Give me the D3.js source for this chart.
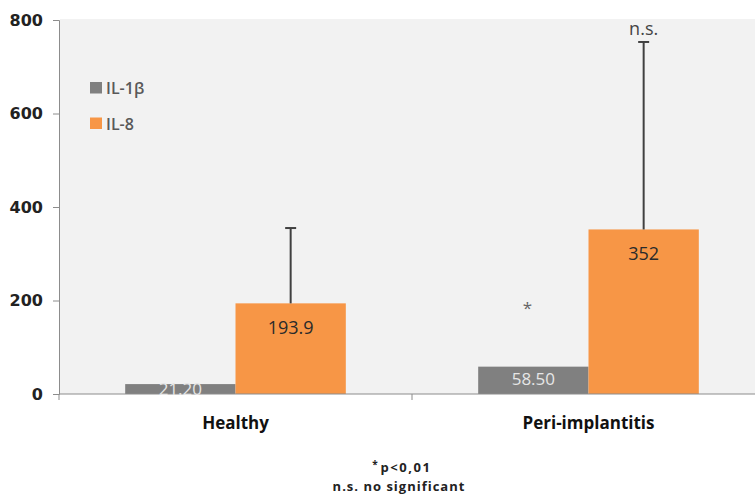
<!DOCTYPE html>
<html><head><meta charset="utf-8">
<script src="https://cdn.jsdelivr.net/npm/d3@7"></script>
<style>body{margin:0;background:#fff}svg{display:block}</style>
</head><body>
<svg id="c" width="755" height="494"></svg>
<script>
const categories = ["Healthy", "Peri-implantitis"];
const seriesNames = ["IL-1β", "IL-8"];
const il1b = [21.20, 58.50];
const il8 = [193.9, 352];
const il1bLabels = ["21.20", "58.50"];
const il8Labels = ["193.9", "352"];
const il8ErrTop = [355, 753];
const il8Sig = ["", "n.s."];
const il1bSig = ["", "*"];
const il1bSigValue = [0, 196];
const yTicks = [0, 200, 400, 600, 800];
const footnotes = ["p<0,01", "n.s. no significant"];
const colors = ["#808080", "#f79646"];

const svg = d3.select("#c");
const font = "'Open Sans', sans-serif";
const tickFont = "'DejaVu Sans', sans-serif";
const x0 = 59, x1 = 765, yBase = 394, yTop = 20;
const y = d3.scaleLinear().domain([0, 800]).range([yBase, yTop]);
const x = d3.scaleBand().domain(categories).range([x0, x1]).padding(0);
const xs = d3.scaleBand().domain(seriesNames).range([0, x.bandwidth()]).paddingInner(0).paddingOuter(0.6);

// plot background
svg.append("rect").attr("x", x0 + 1).attr("y", y(800) - 1).attr("width", 755 - x0).attr("height", yBase - y(800) + 1).attr("fill", "#f2f2f2");

// y axis
const ya = svg.append("g").attr("transform", `translate(${x0},0)`).call(d3.axisLeft(y).tickValues(yTicks).tickSize(6).tickPadding(10));
ya.select(".domain").attr("stroke", "#8c8c8c");
ya.selectAll(".tick line").attr("stroke", "#8c8c8c");
ya.selectAll("text").attr("font-family", tickFont).attr("font-size", 16).attr("font-weight", "bold").attr("fill", "#222");

// bars
const data = categories.map((c, i) => ({c, vals: [il1b[i], il8[i]]}));
const g = svg.append("g");
data.forEach((d, i) => {
  seriesNames.forEach((s, j) => {
    g.append("rect").attr("x", x(d.c) + xs(s)).attr("y", y(d.vals[j]))
      .attr("width", xs.bandwidth()).attr("height", y(0) - y(d.vals[j])).attr("fill", colors[j]);
  });
});

// x axis
const xa = svg.append("g").attr("transform", `translate(0,${yBase})`);
xa.append("line").attr("x1", x0).attr("x2", 755).attr("y1", 0).attr("y2", 0).attr("stroke", "#8c8c8c");
[x0, x0 + x.step(), x1].forEach(t => xa.append("line").attr("x1", t).attr("x2", t).attr("y1", 0).attr("y2", 6).attr("stroke", "#8c8c8c"));
categories.forEach(c => {
  svg.append("text").attr("x", x(c) + x.bandwidth() / 2).attr("y", 429).attr("text-anchor", "middle")
    .attr("font-family", font).attr("font-size", 17).attr("font-weight", "bold").attr("fill", "#111").text(c);
});

// error bars
categories.forEach((c, i) => {
  const cx = x(c) + xs("IL-8") + xs.bandwidth() / 2;
  g.append("line").attr("x1", cx).attr("x2", cx).attr("y1", y(il8[i])).attr("y2", y(il8ErrTop[i])).attr("stroke", "#404040").attr("stroke-width", 2);
  g.append("line").attr("x1", cx - 5.5).attr("x2", cx + 5.5).attr("y1", y(il8ErrTop[i])).attr("y2", y(il8ErrTop[i])).attr("stroke", "#404040").attr("stroke-width", 2);
  if (il8Sig[i]) svg.append("text").attr("x", cx).attr("y", y(il8ErrTop[i]) - 7).attr("text-anchor", "middle")
    .attr("font-family", font).attr("font-size", 18).attr("fill", "#444").text(il8Sig[i]);
  if (il1bSig[i]) svg.append("text").attr("x", x(c) + xs("IL-1β") + xs.bandwidth() / 2 - 6).attr("y", y(il1bSigValue[i]) + 12).attr("text-anchor", "middle")
    .attr("font-family", font).attr("font-size", 17).attr("fill", "#666").text(il1bSig[i]);
});

// value labels
categories.forEach((c, i) => {
  const cxa = x(c) + xs("IL-1β") + xs.bandwidth() / 2;
  const cxb = x(c) + xs("IL-8") + xs.bandwidth() / 2;
  svg.append("text").attr("x", cxa).attr("y", Math.min(y(il1b[i]) + 18, y(0) + 1)).attr("text-anchor", "middle")
    .attr("font-family", font).attr("font-size", 17).attr("fill", "#e6e6e6").text(il1bLabels[i]);
  svg.append("text").attr("x", cxb).attr("y", y(il8[i]) + 31).attr("text-anchor", "middle")
    .attr("font-family", font).attr("font-size", 18).attr("fill", "#2a2a2a").text(il8Labels[i]);
});

// legend
seriesNames.forEach((s, j) => {
  const ly = 82 + j * 35.5;
  svg.append("rect").attr("x", 90).attr("y", ly).attr("width", 12).attr("height", 11.5).attr("fill", colors[j]);
  svg.append("text").attr("x", 106).attr("y", ly + 12).attr("font-family", font).attr("font-size", 16)
    .attr("font-weight", 600).attr("fill", "#595959").text(s);
});

// footnotes
const f1 = svg.append("text").attr("x", 402).attr("y", 472).attr("text-anchor", "middle")
  .attr("font-family", font).attr("font-size", 13).attr("font-weight", "bold").attr("letter-spacing", 1.6).attr("fill", "#222");
f1.append("tspan").attr("font-size", 10).attr("dy", -4).text("*");
f1.append("tspan").attr("dy", 4).attr("dx", 1).text(footnotes[0]);
svg.append("text").attr("x", 399).attr("y", 491).attr("text-anchor", "middle")
  .attr("font-family", font).attr("font-size", 13).attr("font-weight", "bold").attr("letter-spacing", 1).attr("fill", "#222").text(footnotes[1]);
</script>
</body></html>
